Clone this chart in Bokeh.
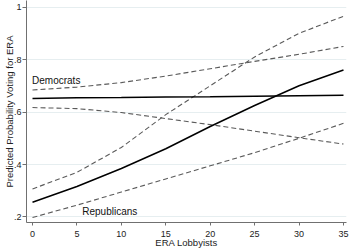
from bokeh.plotting import figure
from bokeh.models import Range1d, FixedTicker, Label
from bokeh.embed import file_html
from bokeh.resources import INLINE

lobbyists = [0, 5, 10, 15, 20, 25, 30, 35]

dem_mean = [0.652, 0.654, 0.655, 0.657, 0.658, 0.660, 0.662, 0.664]
dem_upper = [0.684, 0.695, 0.712, 0.737, 0.765, 0.793, 0.820, 0.850]
dem_lower = [0.617, 0.613, 0.598, 0.575, 0.552, 0.527, 0.502, 0.478]

rep_mean = [0.256, 0.316, 0.385, 0.460, 0.545, 0.625, 0.700, 0.760]
rep_upper = [0.307, 0.370, 0.465, 0.590, 0.700, 0.810, 0.900, 0.965]
rep_lower = [0.198, 0.245, 0.295, 0.345, 0.395, 0.445, 0.500, 0.557]

x_ticks = [0, 5, 10, 15, 20, 25, 30, 35]
y_ticks = [0.2, 0.4, 0.6, 0.8, 1.0]
y_tick_labels = [".2", ".4", ".6", ".8", "1"]

FONT = "Liberation Sans"

p = figure(width=350, height=250, output_backend="svg", toolbar_location=None,
           x_range=Range1d(-0.675, 35.34), y_range=Range1d(0.179, 1.025))
p.min_border_left = 0
p.min_border_right = 4
p.min_border_top = 0
p.min_border_bottom = 0
p.outline_line_color = None
p.background_fill_color = "white"

# grid
p.xgrid.grid_line_color = None
p.ygrid.grid_line_color = "#e6eef0"
p.ygrid.grid_line_width = 1

# axes
p.xaxis.ticker = FixedTicker(ticks=x_ticks)
p.yaxis.ticker = FixedTicker(ticks=y_ticks)
p.yaxis.major_label_overrides = {t: l for t, l in zip(y_ticks, y_tick_labels)}
p.yaxis.major_label_orientation = "horizontal"
for ax in (p.xaxis[0], p.yaxis[0]):
    ax.axis_line_color = "#707070"
    ax.major_tick_line_color = "#707070"
    ax.major_tick_out = 4
    ax.major_tick_in = 0
    ax.minor_tick_line_color = None
    ax.major_label_text_font = FONT
    ax.major_label_text_font_size = "9px"
    ax.major_label_text_color = "#222222"
    ax.axis_label_text_font = FONT
    ax.axis_label_text_font_size = "9.5px"
    ax.axis_label_text_font_style = "normal"
    ax.axis_label_text_color = "#222222"
p.xaxis.axis_label = "ERA Lobbyists"
p.yaxis.axis_label = "Predicted Probability Voting for ERA"
p.xaxis.major_tick_out = 3
p.xaxis.major_label_standoff = 5
p.xaxis.axis_label_standoff = -3
p.yaxis.major_label_standoff = 1
p.yaxis.axis_label_standoff = -4

dash_color = "#5a5a5a"
for ys in (dem_upper, dem_lower, rep_upper, rep_lower):
    p.line(lobbyists, ys, line_color=dash_color, line_width=1.1, line_dash="5 3")
for ys in (dem_mean, rep_mean):
    p.line(lobbyists, ys, line_color="black", line_width=1.5)

p.add_layout(Label(x=-0.05, y=0.7215, text="Democrats", text_font=FONT,
                   text_font_size="10px", text_baseline="middle", text_align="left",
                   text_color="#111111"))
p.add_layout(Label(x=5.6, y=0.222, text="Republicans", text_font=FONT,
                   text_font_size="10px", text_baseline="middle", text_align="left",
                   text_color="#111111"))

open("out.html", "w").write(file_html(p, INLINE))
